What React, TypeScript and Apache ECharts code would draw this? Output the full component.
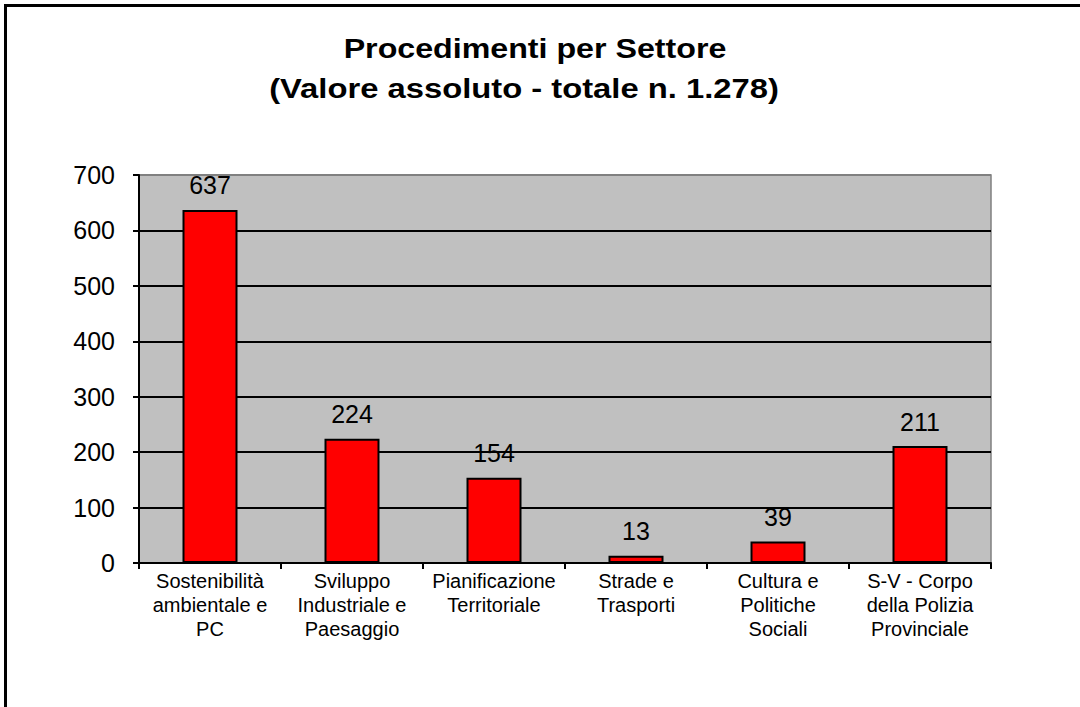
import React, { useEffect, useRef } from "react";
import * as echarts from "echarts";

const categories = [
  "Sostenibilità\nambientale e\nPC",
  "Sviluppo\nIndustriale e\nPaesaggio",
  "Pianificazione\nTerritoriale",
  "Strade e\nTrasporti",
  "Cultura e\nPolitiche\nSociali",
  "S-V - Corpo\ndella Polizia\nProvinciale",
];
const values = [637, 224, 154, 13, 39, 211];
const titleLines = ["Procedimenti per Settore", "(Valore assoluto - totale n. 1.278)"];
const yMin = 0;
const yMax = 700;
const yInterval = 100;

const FONT = "Arial, 'Liberation Sans', sans-serif";

export default function App() {
  const ref = useRef<HTMLDivElement>(null);
  useEffect(() => {
    if (!ref.current) return;
    const chart = echarts.init(ref.current, undefined, { renderer: "svg" });
    const gridColors = ["#000", "#000", "#000", "#000", "#000", "#000", "#000", "#808080"];
    chart.setOption({
      animation: false,
      backgroundColor: "#ffffff",
      textStyle: { fontFamily: FONT },
      graphic: [
        {
          type: "rect",
          shape: { x: 5.5, y: 5.5, width: 1200, height: 900 },
          style: { fill: "none", stroke: "#000", lineWidth: 3 },
          silent: true,
          z: 100,
        },
        {
          type: "text",
          x: 535,
          y: 48,
          scaleX: 1.15,
          style: {
            text: titleLines[0],
            fontSize: 28,
            fontWeight: "bold",
            fontFamily: FONT,
            fill: "#000",
            textAlign: "center",
            textVerticalAlign: "middle",
          },
        },
        {
          type: "text",
          x: 524,
          y: 88,
          scaleX: 1.17,
          style: {
            text: titleLines[1],
            fontSize: 28,
            fontWeight: "bold",
            fontFamily: FONT,
            fill: "#000",
            textAlign: "center",
            textVerticalAlign: "middle",
          },
        },
      ],
      grid: {
        left: 139,
        right: 89,
        top: 175,
        bottom: 144,
        show: true,
        backgroundColor: "#C0C0C0",
        borderColor: "#808080",
        borderWidth: 1.5,
        containLabel: false,
      },
      xAxis: {
        type: "category",
        data: categories,
        boundaryGap: true,
        axisLine: { show: true, lineStyle: { color: "#000", width: 2 } },
        axisTick: { show: true, length: 6, interval: 0, alignWithLabel: false, lineStyle: { color: "#000", width: 2 } },
        axisLabel: {
          interval: 0,
          fontSize: 20,
          lineHeight: 24,
          margin: 6,
          color: "#000",
          fontFamily: FONT,
        },
        splitLine: { show: false },
      },
      yAxis: {
        type: "value",
        min: yMin,
        max: yMax,
        interval: yInterval,
        axisLine: { show: true, lineStyle: { color: "#000", width: 2 } },
        axisTick: { show: true, length: 6, lineStyle: { color: "#000", width: 2 } },
        axisLabel: { fontSize: 25, color: "#000", margin: 24, fontFamily: FONT },
        splitLine: { show: true, lineStyle: { color: gridColors, width: 2 } },
      },
      series: [
        {
          type: "bar",
          data: values,
          barWidth: 55,
          itemStyle: { color: "#FF0000", borderColor: "#000", borderWidth: 2 },
          label: {
            show: true,
            position: "top",
            distance: 12,
            fontSize: 25,
            color: "#000",
            fontFamily: FONT,
          },
        },
      ],
    });
    return () => chart.dispose();
  }, []);
  return (
    <div
      ref={ref}
      style={{ position: "fixed", left: 0, top: 0, width: 1080, height: 707 }}
    />
  );
}
